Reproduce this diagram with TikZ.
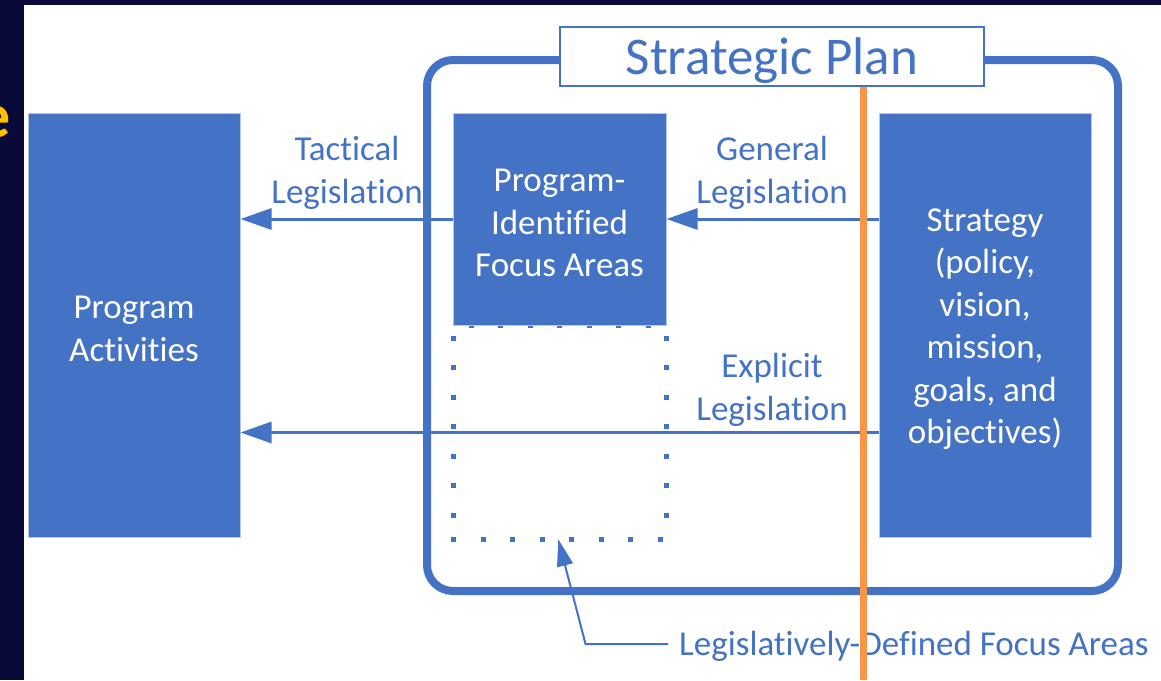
\documentclass[tikz,border=0pt]{standalone}
\usepackage{fontspec}
\setmainfont{Carlito}[RawFeature={-liga;-clig;-calt}]
\usetikzlibrary{arrows.meta}
\definecolor{accent}{HTML}{4472C4}
\definecolor{navy}{HTML}{0A0A38}
\definecolor{orangeline}{HTML}{F79646}
\definecolor{gold}{HTML}{FFC000}
\definecolor{boxedge}{HTML}{B4C7E7}
\begin{document}
\begin{tikzpicture}[x=1pt,y=-1pt,
  txt/.style={align=center, inner sep=0pt, font=\fontsize{35}{42.5}\selectfont, yshift=-4pt},
  bluebox/.style={draw=boxedge, line width=1pt, fill=accent, inner sep=0pt},
  boxtext/.style={txt, text=white},
  lbl/.style={txt, text=accent},
  conn/.style={draw=accent, line width=3pt, -{Triangle[length=31pt,width=21pt]}},
  leader/.style={draw=accent, line width=2pt, -{Triangle[length=27pt,width=16pt]}},
  dot/.style={fill=accent},
]
\useasboundingbox (0,0) rectangle (1161,680);
% slide background
\fill[white] (0,0) rectangle (1161,680);
\fill[navy] (0,0) rectangle (24,680);
\fill[navy] (0,0) rectangle (1161,5);
\begin{scope}
  \clip (0,0) rectangle (24,680);
  \node[anchor=east, text=gold, inner sep=0pt, font=\fontsize{64}{64}\selectfont\bfseries] (etxt) at (11,122) {e};
\end{scope}

% strategic plan frame
\draw[accent, line width=8pt, rounded corners=26pt] (427,60) rectangle (1118,591);
\node[draw=accent, line width=2pt, fill=white, minimum width=424pt, minimum height=59pt,
  inner sep=0pt, text=accent, text height=35pt, text depth=0pt,
  font=\fontsize{53}{60}\selectfont] (title) at (772,56.5) {Strategic Plan};

% legislatively-defined focus area (dotted)
\node[minimum width=213pt, minimum height=213pt, inner sep=0pt] (lfa) at (559.75,432.5) {};
\foreach \yy in {338,367.5,397,426.5,456,485.5,515,539}
  \fill[dot] (451,\yy-2.5) rectangle ++(5,5);
\foreach \yy in {338,367.5,397,426.5,456,485.5,515}
  \fill[dot] (663.5,\yy-2.5) rectangle ++(5,5);
\foreach \xx in {483,512.5,542,571.5,601,630.5,660}
  \fill[dot] (\xx-2.5,536.5) rectangle ++(5,5);
\foreach \xx in {471,500.5,530,559.5,589,618.5,648}
  \fill[dot] (\xx-2.5,323) rectangle ++(5,5);

% boxes
\node[bluebox, minimum width=212pt, minimum height=424pt] (pa) at (134,325) {};
\node[bluebox, minimum width=213pt, minimum height=212pt] (pi) at (559.5,219) {};
\node[bluebox, minimum width=212pt, minimum height=424pt] (st) at (985,325) {};
\node[boxtext] (patxt) at (pa.center) {Program\\Activities};
\node[boxtext] (pitxt) at (pi.center) {Program-\\Identified\\Focus Areas};
\node[boxtext] (sttxt) at (st.center) {Strategy\\(policy,\\vision,\\mission,\\goals, and\\objectives)};

% labels
\node[lbl] (tac) at (347,169) {Tactical\\Legislation};
\node[lbl] (gen) at (772,169) {General\\Legislation};
\node[lbl] (exp) at (772,386) {Explicit\\Legislation};

% connectors
\coordinate (exy) at (0,432.5);
\draw[conn] (pi.west) -- (pi.west -| pa.east);
\draw[conn] (pi.east -| st.west) -- (pi.east);
\draw[conn] (st.west |- exy) -- (pa.east |- exy);

% leader to legislatively-defined focus areas
\node[anchor=base west, inner sep=0pt, text=accent, font=\fontsize{35}{42.5}\selectfont] (ldtxt) at (679,655) {Legislatively-Defined Focus Areas};
\coordinate (bend) at (585.5,644);
\draw[leader] (ldtxt.west |- bend) ++(-11pt,0) -- (bend) -- ([xshift=-1.5pt]lfa.south);

% orange divider
\coordinate (obot) at (863.5,680);
\draw[orangeline, line width=7.5pt] (title.south -| obot) -- (obot);
\end{tikzpicture}
\end{document}
